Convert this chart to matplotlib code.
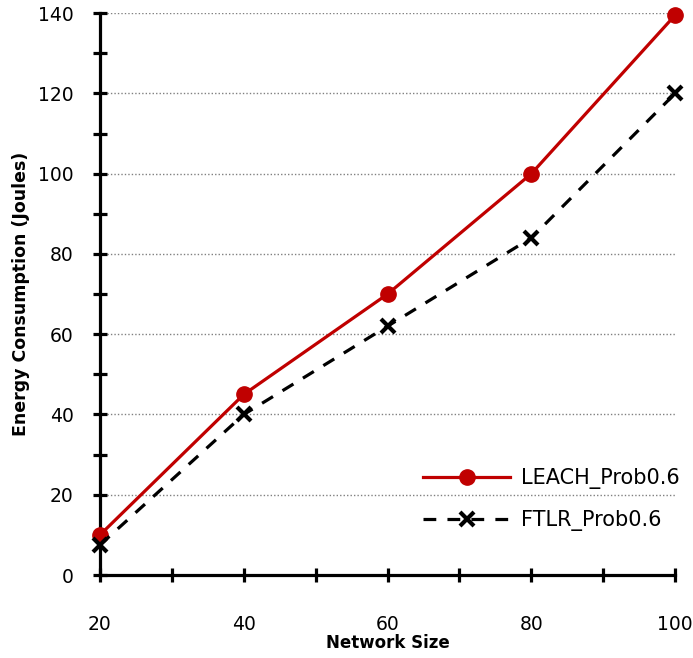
import numpy as np
import matplotlib.pyplot as plt
from matplotlib.ticker import MultipleLocator

# Données
network_size = [20, 40, 60, 80, 100]
leach = [10, 45, 70, 100, 139.5]
ftlr = [7.5, 40, 62, 84, 120]

fig = plt.figure(figsize=(6.93, 6.58), dpi=100)
ax = fig.add_axes([0.1443, 0.1261, 0.830, 0.854])

ax.plot(network_size, leach, color='#c00000', lw=2.3, marker='o', ms=11,
        label='LEACH_Prob0.6', clip_on=False, zorder=3)
ax.plot(network_size, ftlr, color='black', lw=2.3, ls=(0, (4, 3.5)), marker='x',
        ms=10, mew=3, label='FTLR_Prob0.6', clip_on=False, zorder=3)

ax.set_xlim(20, 100)
ax.set_ylim(0, 140)
ax.xaxis.set_major_locator(MultipleLocator(20))
ax.xaxis.set_minor_locator(MultipleLocator(10))
ax.yaxis.set_major_locator(MultipleLocator(20))
ax.yaxis.set_minor_locator(MultipleLocator(10))

ax.grid(axis='y', which='major', ls=(0, (1, 1.5)), color='gray', lw=1)
ax.set_axisbelow(True)

for s in ['top', 'right']:
    ax.spines[s].set_visible(False)
for s in ['left', 'bottom']:
    ax.spines[s].set_linewidth(2.3)

ax.tick_params(which='both', direction='inout', width=2.3, length=10, labelsize=13.5)
ax.tick_params(axis='x', which='major', pad=24)
ax.tick_params(axis='y', which='major', pad=14)

ax.set_xlabel('Network Size', fontsize=12, fontweight='bold', labelpad=0)
ax.set_ylabel('Energy Consumption (Joules)', fontsize=12.5, fontweight='bold', labelpad=6)

ax.legend(loc='lower right', bbox_to_anchor=(1.04, 0.045), frameon=False,
          fontsize=15, handlelength=4.2, handletextpad=0.5, labelspacing=1.0)

fig.savefig('out.png', dpi=100)
